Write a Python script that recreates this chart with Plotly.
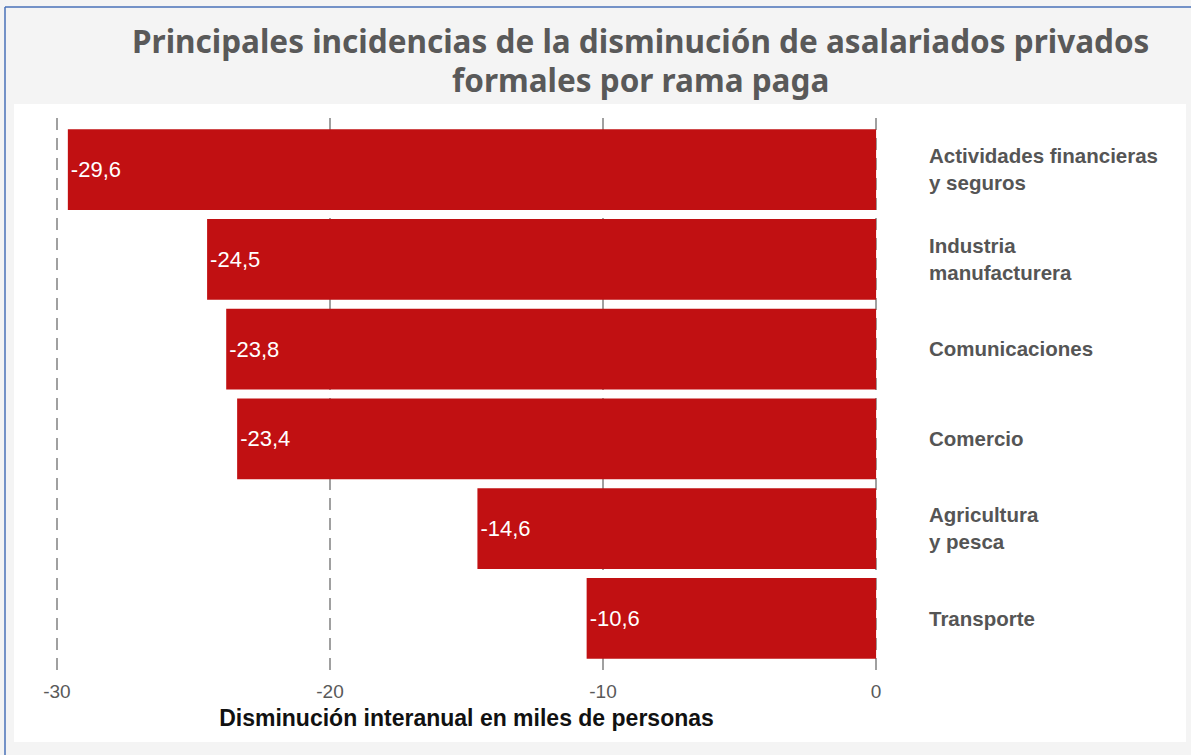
import plotly.graph_objects as go

categories = [
    "Actividades financieras<br>y seguros",
    "Industria<br>manufacturera",
    "Comunicaciones",
    "Comercio",
    "Agricultura<br>y pesca",
    "Transporte",
]
values = [-29.6, -24.5, -23.8, -23.4, -14.6, -10.6]
tick_vals = [-30, -20, -10, 0]
tick_text = ["-30", "-20", "-10", "0"]

W, H = 1191, 755
L, R, T, B = 46, 304, 118, 85
pw, ph = W - L - R, H - T - B

def px_x(x):
    return (x - L) / pw

def px_y(y):
    return (H - B - y) / ph

fig = go.Figure()
fig.add_trace(go.Bar(
    y=categories, x=values, orientation="h",
    marker=dict(color="#c11012", line=dict(width=0)),
    width=0.9,
    texttemplate="%{x:.1f}",
    textposition="inside", insidetextanchor="end",
    textfont=dict(family="Liberation Sans, Arial, sans-serif", size=22, color="white"),
    cliponaxis=False,
    hoverinfo="skip",
))

fig.update_layout(
    width=W, height=H,
    margin=dict(l=L, r=R, t=T, b=B),
    paper_bgcolor="#f4f4f4",
    plot_bgcolor="white",
    separators=",.",
    showlegend=False,
    xaxis=dict(
        range=[-30.4, 0.4],
        tickvals=tick_vals, ticktext=tick_text,
        showgrid=True, gridcolor="#a0a0a0", gridwidth=2, griddash="12px,8px",
        zeroline=False, showline=False, ticks="",
        ticklabelstandoff=8,
        tickfont=dict(family="Liberation Sans, Arial, sans-serif", size=19, color="#595959"),
        title=dict(text="<b>Disminución interanual en miles de personas</b>",
                   font=dict(family="Liberation Sans, Arial, sans-serif", size=23, color="#111111"),
                   standoff=8),
        fixedrange=True,
    ),
    yaxis=dict(
        categoryorder="array", categoryarray=categories,
        autorange=False,
        range=[5.575, -0.575],
        side="right",
        showgrid=False, zeroline=False, showline=False, ticks="",
        ticklabelstandoff=41,
        tickfont=dict(family="Liberation Sans, Arial, sans-serif", size=20.5, color="#555555", weight="bold"),
    ),
    bargap=0.1,
    shapes=[
        dict(type="rect", xref="paper", yref="paper", layer="below",
             x0=px_x(14), x1=px_x(1186), y0=px_y(742), y1=px_y(104),
             fillcolor="white", line=dict(width=0)),
        dict(type="line", xref="paper", yref="paper",
             x0=px_x(5), x1=px_x(1195), y0=px_y(7), y1=px_y(7),
             line=dict(color="#4a72b8", width=1.5)),
        dict(type="line", xref="paper", yref="paper",
             x0=px_x(5), x1=px_x(5), y0=px_y(7), y1=px_y(760),
             line=dict(color="#4a72b8", width=1.5)),
    ],
    annotations=[
        dict(text="<b>Principales incidencias de la disminución de asalariados privados</b>",
             xref="paper", yref="paper", x=px_x(640), y=px_y(40),
             xanchor="center", yanchor="middle", showarrow=False,
             font=dict(family="Noto Sans, sans-serif", size=31.5, color="#595959")),
        dict(text="<b>formales por rama paga</b>",
             xref="paper", yref="paper", x=px_x(640), y=px_y(80),
             xanchor="center", yanchor="middle", showarrow=False,
             font=dict(family="Noto Sans, sans-serif", size=31.5, color="#595959")),
    ],
)

fig.write_html("out.html", config={"displayModeBar": False},
               post_script="document.body.style.margin='0';document.body.style.overflow='hidden';")
